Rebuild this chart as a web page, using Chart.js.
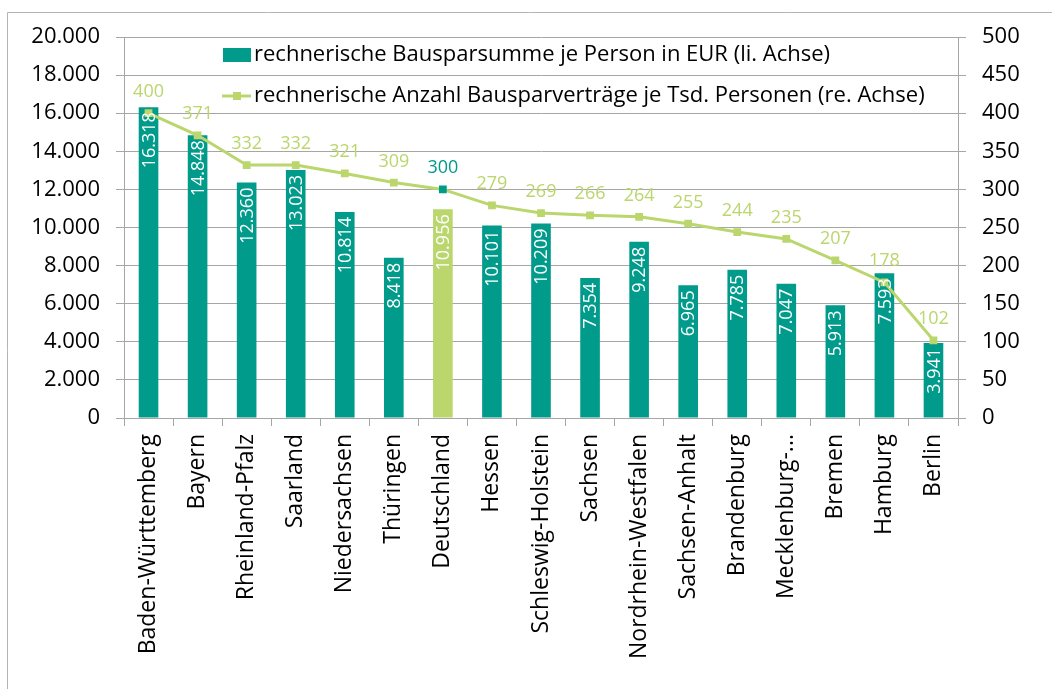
<!DOCTYPE html>
<html>
<head>
<meta charset="utf-8">
<script src="https://cdn.jsdelivr.net/npm/chart.js@4"></script>
<style>
  html, body { margin: 0; padding: 0; background: #fff; }
  #wrap { width: 1052px; height: 689px; position: relative; }
</style>
</head>
<body>
<div id="wrap"><canvas id="chart" width="1052" height="689"></canvas></div>
<script>
// data
const laender = ["Baden-Württemberg", "Bayern", "Rheinland-Pfalz", "Saarland", "Niedersachsen", "Thüringen",
  "Deutschland", "Hessen", "Schleswig-Holstein", "Sachsen", "Nordrhein-Westfalen", "Sachsen-Anhalt",
  "Brandenburg", "Mecklenburg-...", "Bremen", "Hamburg", "Berlin"];
const bausparsumme = [16318, 14848, 12360, 13023, 10814, 8418, 10956, 10101, 10209, 7354, 9248, 6965, 7785, 7047, 5913, 7593, 3941];
const vertraege = [400, 371, 332, 332, 321, 309, 300, 279, 269, 266, 264, 255, 244, 235, 207, 178, 102];
const labelBars = "rechnerische Bausparsumme je Person in EUR (li. Achse)";
const labelLine = "rechnerische Anzahl Bausparverträge je Tsd. Personen (re. Achse)";

const TEAL = "#009b8b";
const GREEN = "#bad66d";
const GRID = "#a6a6a6";
const FONT = "'Open Sans', sans-serif";

const isDE = laender.map(l => l === "Deutschland");
const fmt = v => String(v).replace(/\B(?=(\d{3})+(?!\d))/g, ".");

// dataset indexes
const LINE = 0, BARS = 1;

// labels on bars + points, legend, outer frame
const extras = {
  id: "extras",
  afterDatasetsDraw(chart) {
    const ctx = chart.ctx;
    ctx.save();
    // bar values, rotated, white, inside the top
    ctx.font = "18px " + FONT;
    ctx.fillStyle = "#fff";
    ctx.textAlign = "right";
    ctx.textBaseline = "middle";
    chart.getDatasetMeta(BARS).data.forEach((bar, i) => {
      ctx.save();
      ctx.translate(bar.x, bar.y + 5);
      ctx.rotate(-Math.PI / 2);
      ctx.fillText(fmt(bausparsumme[i]), 0, 1);
      ctx.restore();
    });
    // line values above the points
    ctx.textAlign = "center";
    ctx.textBaseline = "alphabetic";
    chart.getDatasetMeta(LINE).data.forEach((pt, i) => {
      ctx.fillStyle = isDE[i] ? TEAL : GREEN;
      ctx.fillText(vertraege[i], pt.x, pt.y - 16);
    });
    ctx.restore();
  },
  afterDraw(chart) {
    const ctx = chart.ctx;
    ctx.save();
    // frame
    ctx.strokeStyle = "#b4b4b4";
    ctx.lineWidth = 1;
    ctx.beginPath();
    ctx.moveTo(7.5, 689);
    ctx.lineTo(7.5, 12.5);
    ctx.lineTo(1052, 12.5);
    ctx.stroke();
    // legend
    ctx.fillStyle = TEAL;
    ctx.fillRect(223, 48, 28, 14);
    ctx.strokeStyle = GREEN;
    ctx.lineWidth = 3;
    ctx.beginPath();
    ctx.moveTo(222, 96);
    ctx.lineTo(251, 96);
    ctx.stroke();
    ctx.fillStyle = GREEN;
    ctx.fillRect(233, 92, 8, 8);
    ctx.fillStyle = "#000";
    ctx.font = "22px " + FONT;
    ctx.textAlign = "left";
    ctx.textBaseline = "middle";
    ctx.fillText(labelBars, 254, 55);
    ctx.fillText(labelLine, 254, 96);
    ctx.restore();
  }
};

new Chart(document.getElementById("chart"), {
  data: {
    labels: laender,
    datasets: [
      {
        type: "line",
        label: labelLine,
        data: vertraege,
        yAxisID: "y1",
        borderColor: GREEN,
        borderWidth: 3,
        pointStyle: "rect",
        pointRadius: 5.5,
        pointBackgroundColor: isDE.map(d => d ? TEAL : GREEN),
        pointBorderColor: isDE.map(d => d ? TEAL : GREEN),
        pointBorderWidth: 0,
        tension: 0,
        order: 0
      },
      {
        type: "bar",
        label: labelBars,
        data: bausparsumme,
        yAxisID: "y",
        backgroundColor: isDE.map(d => d ? GREEN : TEAL),
        categoryPercentage: 1,
        barPercentage: 0.4,
        order: 1
      }
    ]
  },
  options: {
    responsive: false,
    animation: false,
    devicePixelRatio: 1,
    layout: { padding: { top: 37, left: 0, right: 0, bottom: 0 } },
    plugins: { legend: { display: false }, tooltip: { enabled: false } },
    scales: {
      x: {
        offset: true,
        grid: { offset: true, drawOnChartArea: false, color: GRID, tickLength: 8 },
        border: { color: GRID },
        ticks: {
          minRotation: 90, maxRotation: 90, autoSkip: false, padding: 8,
          color: "#000", font: { family: FONT, size: 23 }
        },
        afterFit: s => { s.height = 271; }
      },
      y: {
        position: "left",
        min: 0, max: 20000,
        ticks: {
          stepSize: 2000, padding: 16, color: "#000",
          font: { family: FONT, size: 22 },
          callback: v => fmt(v)
        },
        grid: { color: GRID, tickLength: 8 },
        border: { color: GRID },
        afterFit: s => { s.width = 124; }
      },
      y1: {
        position: "right",
        min: 0, max: 500,
        ticks: { stepSize: 50, padding: 16, color: "#000", font: { family: FONT, size: 22 } },
        grid: { drawOnChartArea: false, color: GRID, tickLength: 8 },
        border: { color: GRID },
        afterFit: s => { s.width = 94; }
      }
    }
  },
  plugins: [extras]
});
</script>
</body>
</html>
